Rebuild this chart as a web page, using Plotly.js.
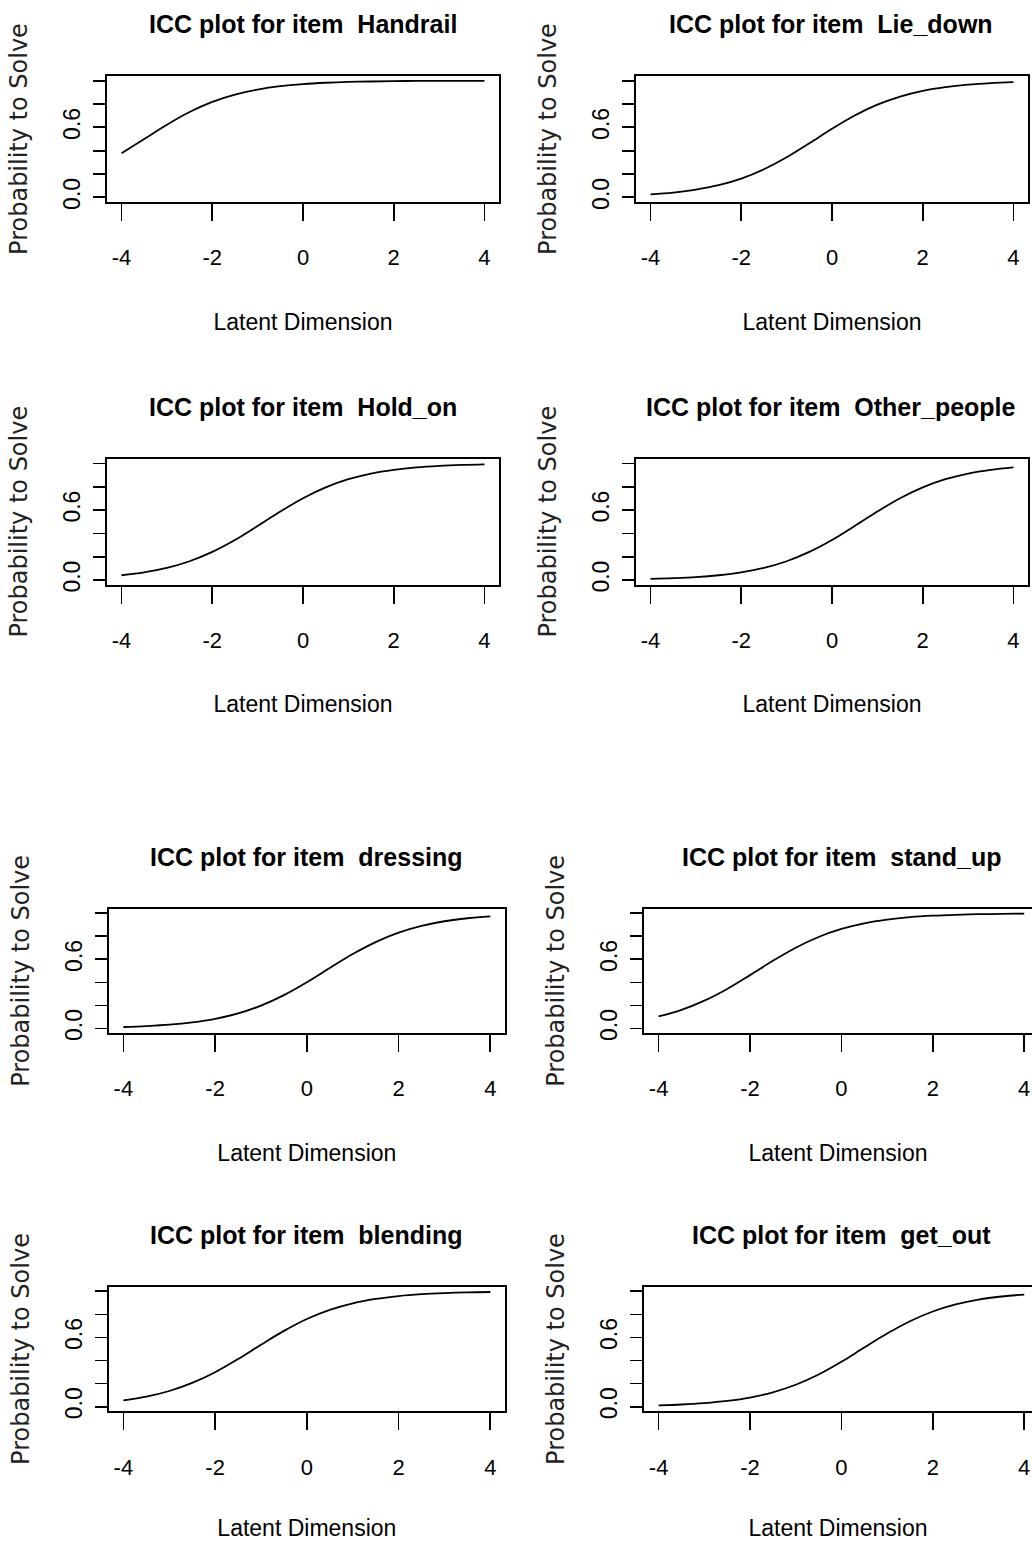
<!DOCTYPE html>
<html>
<head>
<meta charset="utf-8">
<script src="https://cdn.plot.ly/plotly-3.0.1.min.js"></script>
<style>html,body{margin:0;padding:0;background:#fff;overflow:hidden}</style>
</head>
<body>
<div id="chart" style="width:1032px;height:1541px"></div>
<script>
// ---- data ----
const items = ['Handrail', 'Lie_down', 'Hold_on', 'Other_people', 'dressing', 'stand_up', 'blending', 'get_out'];
const theta = [-4, -3.5, -3, -2.5, -2, -1.5, -1, -0.5, 0, 0.5, 1, 1.5, 2, 2.5, 3, 3.5, 4];
const handrail    = [0.378, 0.500, 0.622, 0.731, 0.818, 0.881, 0.924, 0.953, 0.971, 0.982, 0.989, 0.993, 0.996, 0.998, 0.998, 0.999, 0.999];
const lieDown     = [0.025, 0.041, 0.066, 0.104, 0.161, 0.241, 0.343, 0.463, 0.587, 0.701, 0.794, 0.864, 0.913, 0.945, 0.966, 0.979, 0.987];
const holdOn      = [0.041, 0.066, 0.104, 0.161, 0.241, 0.343, 0.463, 0.587, 0.701, 0.794, 0.864, 0.913, 0.945, 0.966, 0.979, 0.987, 0.992];
const otherPeople = [0.010, 0.016, 0.025, 0.041, 0.066, 0.104, 0.161, 0.241, 0.343, 0.463, 0.587, 0.701, 0.794, 0.864, 0.913, 0.945, 0.966];
const dressing    = [0.012, 0.020, 0.032, 0.052, 0.083, 0.130, 0.198, 0.289, 0.401, 0.525, 0.646, 0.750, 0.832, 0.891, 0.931, 0.957, 0.973];
const standUp     = [0.104, 0.161, 0.241, 0.343, 0.463, 0.587, 0.701, 0.794, 0.864, 0.913, 0.945, 0.966, 0.979, 0.987, 0.992, 0.995, 0.997];
const blending    = [0.055, 0.087, 0.136, 0.206, 0.299, 0.413, 0.537, 0.657, 0.760, 0.839, 0.896, 0.934, 0.959, 0.975, 0.985, 0.991, 0.994];
const getOut      = [0.012, 0.019, 0.031, 0.050, 0.079, 0.125, 0.190, 0.279, 0.389, 0.513, 0.634, 0.741, 0.825, 0.886, 0.928, 0.955, 0.972];
const series = [handrail, lieDown, holdOn, otherPeople, dressing, standUp, blending, getOut];
const xTickVals = [-4, -2, 0, 2, 4];
const xTickText = ['-4', '-2', '0', '2', '4'];
const yTickVals = [0, 0.2, 0.4, 0.6, 0.8, 1.0];
const yTickText = ['0.0', '', '', '0.6', '', ''];
const titlePrefix = 'ICC plot for item  ';
const xTitle = 'Latent Dimension';
const yTitle = 'Probability to Solve';

// ---- layout geometry (pixels) ----
const W = 1032, H = 1541;
const panels = [
  {L: 107,   R: 499,  T: 76,     B: 202,    cx: 303, xr: [-4.32, 4.32]},
  {L: 636,   R: 1028, T: 76,     B: 202,    cx: 831, xr: [-4.32, 4.32]},
  {L: 107,   R: 499,  T: 458.7,  B: 584.7,  cx: 303, xr: [-4.32, 4.32]},
  {L: 636,   R: 1028, T: 458.7,  B: 584.7,  cx: 831, xr: [-4.32, 4.32]},
  {L: 108.7, R: 505,  T: 908.7,  B: 1033,   cx: 306, xr: [-4.32, 4.32]},
  {L: 644,   R: 1032, T: 908.7,  B: 1033,   cx: 841, xr: [-4.32, 4.17]},
  {L: 108.7, R: 505,  T: 1286.7, B: 1411.3, cx: 306, xr: [-4.32, 4.32]},
  {L: 644,   R: 1032, T: 1286.7, B: 1411.3, cx: 841, xr: [-4.32, 4.17]}
];
const SANS = '"Liberation Sans", Arial, sans-serif';

const traces = [];
const layout = {
  width: W, height: H,
  margin: {l: 0, r: 0, t: 0, b: 0},
  paper_bgcolor: '#ffffff', plot_bgcolor: '#ffffff',
  showlegend: false,
  annotations: []
};

series.forEach((ys, i) => {
  const p = panels[i];
  const n = i === 0 ? '' : String(i + 1);
  traces.push({
    type: 'scatter', mode: 'lines',
    x: theta, y: ys,
    xaxis: 'x' + n, yaxis: 'y' + n,
    line: {color: '#000000', width: 1.8, shape: 'spline', smoothing: 1},
    hoverinfo: 'skip', name: items[i]
  });
  layout['xaxis' + n] = {
    domain: [p.L / W, Math.min(1, p.R / W)],
    range: p.xr, anchor: 'y' + n,
    showline: true, mirror: true, linecolor: '#000', linewidth: 2,
    showgrid: false, zeroline: false,
    ticks: 'outside', ticklen: 17, tickwidth: 1.7, tickcolor: '#000',
    tickmode: 'array', tickvals: xTickVals, ticktext: xTickText,
    tickfont: {family: SANS, size: 22, color: '#000'},
    ticklabelstandoff: 18,
    title: {text: xTitle, font: {family: SANS, size: 23, color: '#000'}, standoff: 44},
    fixedrange: true
  };
  layout['yaxis' + n] = {
    domain: [1 - p.B / H, 1 - p.T / H],
    range: [-0.04, 1.04], anchor: 'x' + n,
    showline: true, mirror: true, linecolor: '#000', linewidth: 2,
    showgrid: false, zeroline: false,
    ticks: 'outside', ticklen: 12, tickwidth: 1.7, tickcolor: '#000',
    tickmode: 'array', tickvals: yTickVals, ticktext: yTickText,
    tickangle: -90,
    tickfont: {family: SANS, size: 23, color: '#000'},
    ticklabelstandoff: 4,
    title: {text: yTitle, font: {family: '"DejaVu Sans", sans-serif', size: 24, color: '#222'}, standoff: 24},
    fixedrange: true
  };
  layout.annotations.push({
    xref: 'paper', yref: 'paper',
    x: p.cx / W, y: 1 - (p.T - 52) / H,
    xanchor: 'center', yanchor: 'middle',
    text: titlePrefix + items[i],
    showarrow: false,
    font: {family: SANS, size: 25, color: '#000', weight: 700}
  });
});

Plotly.newPlot('chart', traces, layout, {staticPlot: true, displayModeBar: false});
</script>
</body>
</html>
